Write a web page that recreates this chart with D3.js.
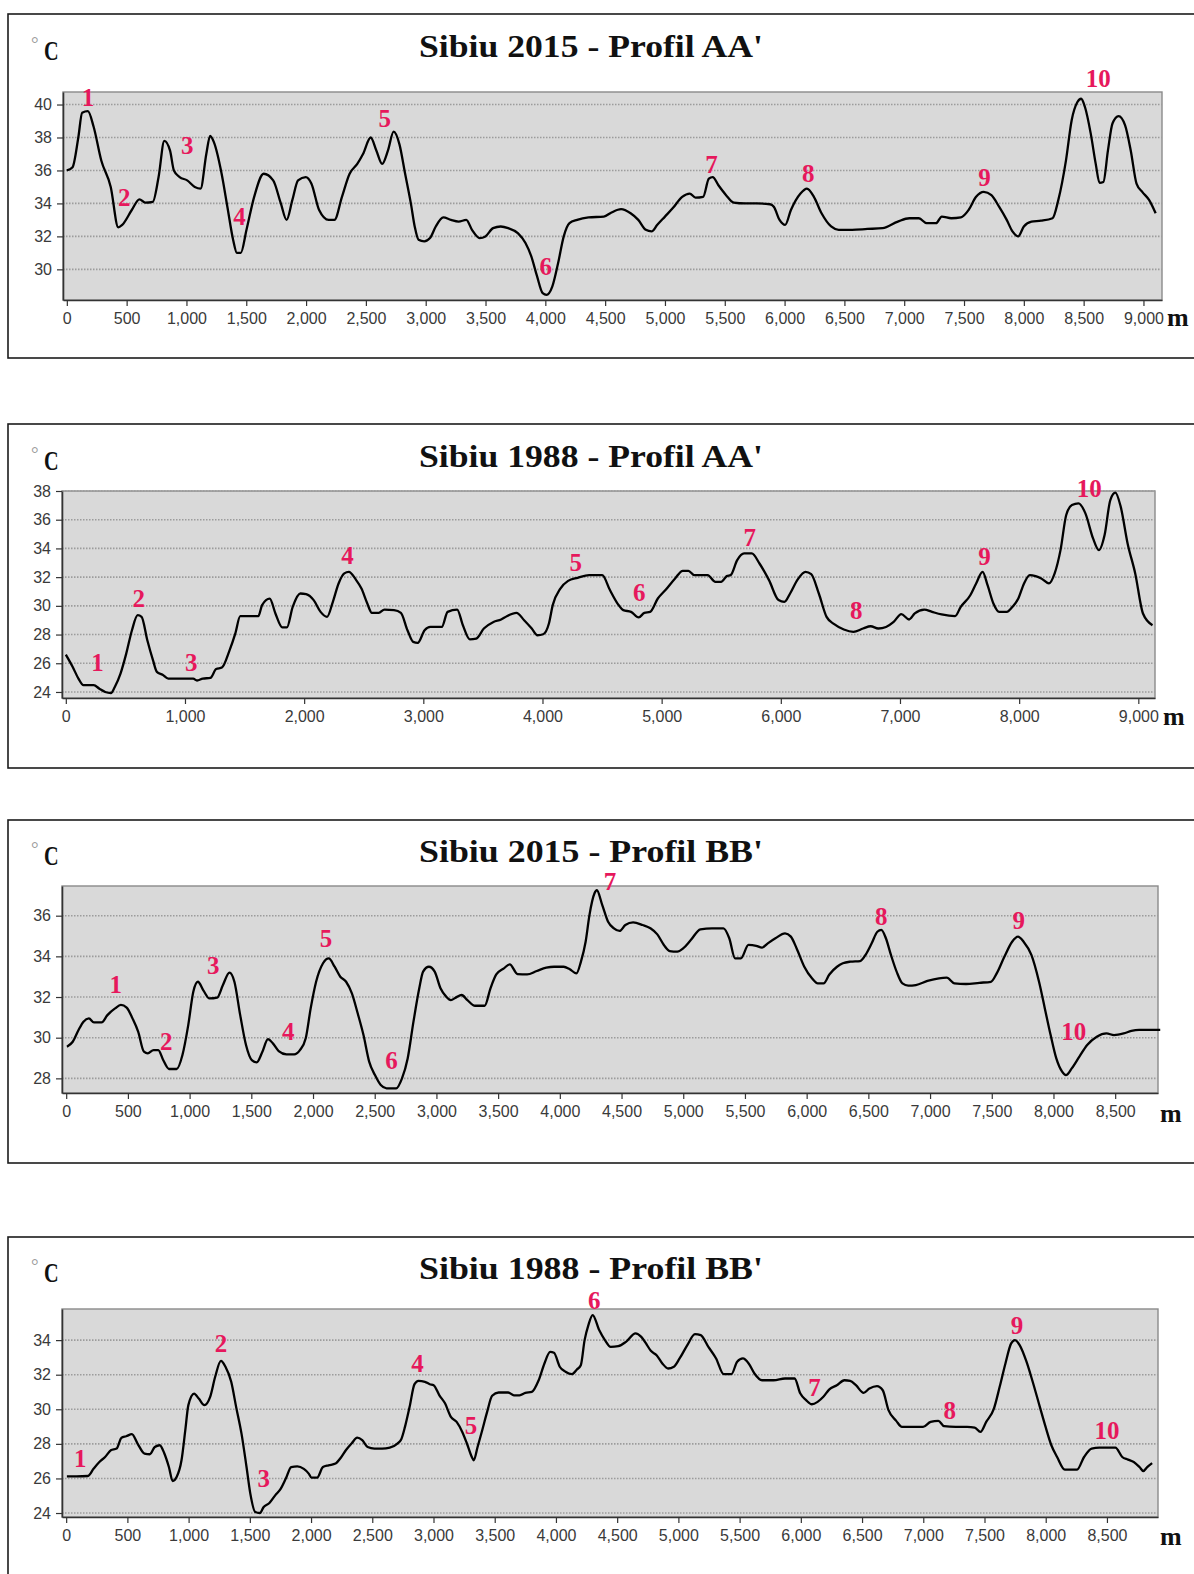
<!DOCTYPE html>
<html><head><meta charset="utf-8">
<script src="https://cdn.jsdelivr.net/npm/d3@7"></script>
<style>body{margin:0;background:#fff;} svg{display:block;}</style>
</head><body>
<svg id="chart" width="1194" height="1574"></svg>
<script>
// ---------- DATA (distance m, temperature °C) ----------
const aa2015 = [[0,36.0],[48,36.2],[96,38.0],[128,39.5],[176,39.6],[224,38.65],[288,36.6],[367,35.0],[430,32.55],[463,32.7],[543,33.6],[607,34.25],[655,34.05],[719,34.1],[767,35.6],[815,37.8],[863,37.2],[895,36.0],[943,35.6],[1006,35.4],[1070,35.0],[1118,34.9],[1166,37.0],[1198,38.1],[1230,37.7],[1294,35.8],[1342,33.8],[1390,31.8],[1422,31.0],[1454,31.0],[1502,32.4],[1566,34.4],[1646,35.8],[1725,35.4],[1789,34.0],[1837,33.0],[1885,34.2],[1933,35.4],[1997,35.6],[2045,35.2],[2109,33.6],[2189,33.0],[2237,33.0],[2300,34.4],[2364,35.8],[2428,36.4],[2476,37.0],[2540,38.0],[2588,37.2],[2636,36.4],[2684,37.2],[2732,38.35],[2780,37.6],[2828,35.8],[2876,34.0],[2908,32.6],[2940,31.8],[2988,31.7],[3036,31.9],[3084,32.6],[3147,33.15],[3211,33.0],[3275,32.9],[3339,33.0],[3387,32.4],[3451,31.9],[3499,32.0],[3563,32.5],[3627,32.6],[3690,32.5],[3770,32.2],[3834,31.6],[3882,30.8],[3930,29.6],[3978,28.55],[4010,28.45],[4058,28.95],[4106,30.35],[4154,32.0],[4202,32.8],[4266,33.0],[4361,33.15],[4489,33.2],[4553,33.45],[4633,33.65],[4713,33.4],[4777,33.0],[4840,32.4],[4888,32.3],[4936,32.7],[5000,33.2],[5064,33.7],[5144,34.4],[5207,34.6],[5255,34.35],[5319,34.4],[5367,35.5],[5399,35.6],[5447,35.1],[5511,34.5],[5575,34.05],[5670,34.0],[5766,34.0],[5878,33.95],[5910,33.8],[5958,33.0],[6005,32.7],[6053,33.6],[6133,34.6],[6187,34.9],[6245,34.4],[6309,33.4],[6389,32.6],[6452,32.4],[6564,32.4],[6692,32.45],[6819,32.5],[6947,32.9],[7043,33.1],[7123,33.1],[7187,32.8],[7266,32.8],[7314,33.2],[7394,33.1],[7474,33.15],[7538,33.6],[7601,34.4],[7665,34.7],[7729,34.5],[7793,33.8],[7857,33.0],[7905,32.3],[7953,32.0],[8000,32.6],[8064,32.9],[8144,32.95],[8240,33.1],[8288,34.2],[8352,36.6],[8400,39.05],[8448,40.15],[8479,40.35],[8511,39.85],[8559,38.25],[8601,36.4],[8633,35.25],[8665,35.3],[8703,37.2],[8741,38.85],[8792,39.3],[8846,38.75],[8894,37.2],[8942,35.2],[8990,34.7],[9048,34.2],[9102,33.4]];

const aa1988 = [[0,26.6],[58,25.74],[106,24.93],[148,24.47],[234,24.47],[282,24.23],[331,24.0],[379,23.93],[411,24.35],[459,25.28],[507,26.67],[555,28.3],[603,29.35],[636,29.23],[684,27.6],[732,26.2],[764,25.4],[812,25.2],[860,24.93],[957,24.93],[1069,24.93],[1101,24.8],[1149,24.93],[1213,24.98],[1262,25.6],[1310,25.7],[1374,26.9],[1422,28.07],[1464,29.28],[1534,29.28],[1615,29.28],[1647,30.05],[1711,30.5],[1759,29.47],[1817,28.5],[1855,28.5],[1904,29.93],[1968,30.86],[2016,30.81],[2080,30.4],[2138,29.58],[2192,29.23],[2241,30.28],[2289,31.56],[2337,32.26],[2375,32.37],[2433,31.84],[2481,31.2],[2530,30.16],[2568,29.51],[2626,29.51],[2674,29.74],[2754,29.7],[2812,29.51],[2867,28.3],[2915,27.49],[2953,27.42],[3011,28.3],[3059,28.53],[3155,28.53],[3204,29.58],[3284,29.74],[3332,28.65],[3390,27.67],[3444,27.72],[3508,28.42],[3589,28.88],[3653,29.05],[3701,29.28],[3781,29.51],[3846,29.0],[3910,28.42],[3958,27.95],[4006,28.02],[4054,28.77],[4086,30.05],[4150,31.2],[4215,31.74],[4295,31.95],[4391,32.14],[4501,32.14],[4566,31.1],[4630,30.16],[4678,29.7],[4743,29.58],[4807,29.19],[4855,29.51],[4903,29.58],[4968,30.51],[5032,31.1],[5113,31.91],[5177,32.44],[5225,32.44],[5274,32.14],[5386,32.14],[5451,31.67],[5499,31.67],[5547,32.07],[5579,32.14],[5634,33.19],[5692,33.65],[5756,33.65],[5821,32.95],[5901,31.79],[5981,30.4],[6030,30.28],[6078,30.86],[6142,31.84],[6207,32.37],[6255,32.21],[6319,30.86],[6384,29.23],[6448,28.72],[6529,28.35],[6609,28.19],[6690,28.42],[6754,28.58],[6818,28.42],[6883,28.53],[6947,28.88],[7011,29.42],[7076,29.05],[7124,29.47],[7204,29.74],[7269,29.58],[7349,29.4],[7462,29.28],[7510,29.93],[7590,30.74],[7639,31.56],[7693,32.37],[7735,31.44],[7784,30.16],[7832,29.58],[7896,29.58],[7944,29.93],[7993,30.51],[8041,31.56],[8089,32.14],[8138,32.07],[8186,31.91],[8250,31.56],[8298,32.26],[8347,33.88],[8395,36.33],[8443,37.02],[8498,37.14],[8556,36.44],[8620,34.7],[8669,33.88],[8717,34.93],[8765,37.37],[8807,37.88],[8852,36.91],[8910,34.35],[8974,32.26],[9039,29.47],[9119,28.65]];

const bb2015 = [[6,29.56],[53,29.8],[100,30.38],[140,30.79],[184,30.95],[225,30.75],[287,30.75],[334,31.11],[396,31.44],[443,31.61],[490,31.48],[537,30.95],[583,30.3],[630,29.31],[661,29.23],[708,29.39],[746,29.39],[786,28.9],[833,28.46],[895,28.46],[942,29.15],[989,30.62],[1030,32.26],[1067,32.75],[1114,32.3],[1161,31.93],[1223,31.97],[1270,32.59],[1323,33.2],[1363,32.75],[1410,31.11],[1457,29.64],[1504,28.9],[1544,28.79],[1588,29.28],[1635,29.93],[1675,29.72],[1722,29.34],[1785,29.18],[1847,29.18],[1894,29.39],[1941,29.97],[1981,31.44],[2025,32.75],[2081,33.66],[2128,33.9],[2175,33.49],[2221,33.0],[2268,32.75],[2315,32.18],[2362,31.2],[2409,30.13],[2455,28.82],[2502,28.16],[2549,27.67],[2596,27.51],[2674,27.51],[2721,28.0],[2767,28.98],[2814,30.79],[2861,32.43],[2892,33.25],[2939,33.49],[2986,33.25],[3033,32.43],[3079,32.02],[3117,31.85],[3157,31.97],[3204,32.1],[3251,31.85],[3313,31.57],[3391,31.57],[3438,32.43],[3485,33.11],[3547,33.41],[3594,33.61],[3657,33.13],[3735,33.11],[3813,33.28],[3890,33.44],[3953,33.49],[4031,33.49],[4078,33.38],[4134,33.16],[4171,33.74],[4209,34.72],[4240,36.03],[4281,37.1],[4300,37.25],[4344,36.52],[4391,35.7],[4438,35.38],[4484,35.25],[4531,35.54],[4594,35.67],[4671,35.54],[4734,35.38],[4790,35.08],[4843,34.56],[4890,34.26],[4952,34.23],[4999,34.39],[5061,34.8],[5139,35.33],[5233,35.38],[5326,35.38],[5373,34.89],[5420,33.9],[5467,33.9],[5529,34.56],[5591,34.52],[5638,34.43],[5685,34.64],[5747,34.89],[5825,35.13],[5872,34.97],[5919,34.39],[5981,33.49],[6043,32.92],[6090,32.67],[6137,32.67],[6184,33.11],[6246,33.49],[6293,33.66],[6355,33.74],[6433,33.77],[6480,34.1],[6527,34.64],[6573,35.21],[6605,35.3],[6642,34.89],[6683,34.07],[6729,33.25],[6776,32.67],[6823,32.56],[6885,32.59],[6979,32.79],[7072,32.92],[7135,32.95],[7197,32.67],[7291,32.64],[7400,32.7],[7493,32.75],[7540,33.16],[7602,33.98],[7665,34.72],[7712,34.97],[7758,34.72],[7821,34.07],[7883,32.75],[7930,31.44],[7977,30.13],[8023,28.98],[8070,28.33],[8101,28.16],[8148,28.49],[8210,29.07],[8273,29.64],[8351,30.05],[8429,30.21],[8491,30.13],[8569,30.21],[8631,30.33],[8694,30.38],[8787,30.38],[8865,30.38]];

const bb1988 = [[6,26.12],[84,26.12],[178,26.14],[225,26.57],[271,26.95],[318,27.24],[365,27.63],[412,27.73],[452,28.36],[490,28.44],[537,28.56],[583,28.02],[640,27.44],[683,27.4],[724,27.82],[764,27.92],[802,27.44],[839,26.66],[870,25.85],[902,26.08],[942,27.05],[973,28.79],[998,30.24],[1045,30.91],[1083,30.62],[1129,30.24],[1176,30.72],[1217,31.88],[1264,32.8],[1301,32.46],[1348,31.59],[1388,30.14],[1432,28.59],[1473,26.66],[1504,25.12],[1544,24.06],[1582,24.0],[1613,24.35],[1660,24.58],[1707,25.02],[1753,25.41],[1794,25.99],[1838,26.66],[1888,26.7],[1941,26.55],[1981,26.28],[2003,26.05],[2050,26.05],[2097,26.66],[2143,26.76],[2200,26.86],[2243,27.2],[2284,27.63],[2331,28.02],[2377,28.36],[2418,28.21],[2462,27.82],[2518,27.73],[2580,27.73],[2643,27.78],[2705,28.02],[2736,28.25],[2767,28.98],[2805,30.14],[2845,31.45],[2877,31.64],[2930,31.59],[2970,31.45],[3001,31.39],[3048,30.81],[3095,30.33],[3142,29.56],[3189,29.27],[3235,28.69],[3273,28.02],[3313,27.24],[3329,27.05],[3360,27.82],[3398,28.79],[3438,29.85],[3479,30.78],[3532,30.97],[3610,30.97],[3657,30.81],[3703,30.81],[3750,30.95],[3803,31.01],[3859,31.68],[3906,32.65],[3953,33.32],[3984,33.27],[4031,32.46],[4078,32.17],[4131,32.03],[4171,32.3],[4203,32.55],[4234,34.0],[4265,34.87],[4300,35.45],[4353,34.58],[4400,34.0],[4447,33.61],[4509,33.65],[4572,33.9],[4650,34.39],[4697,34.19],[4744,33.71],[4775,33.38],[4822,33.13],[4869,32.65],[4916,32.36],[4963,32.46],[5010,32.94],[5073,33.71],[5135,34.35],[5182,34.29],[5245,33.61],[5308,32.94],[5370,32.03],[5433,32.03],[5480,32.75],[5527,32.94],[5574,32.65],[5621,32.07],[5683,31.68],[5777,31.68],[5871,31.78],[5949,31.78],[5996,30.91],[6043,30.53],[6090,30.29],[6137,30.43],[6184,30.72],[6231,31.14],[6294,31.39],[6356,31.68],[6403,31.64],[6450,31.39],[6513,30.95],[6560,31.2],[6622,31.34],[6669,31.1],[6716,29.95],[6779,29.33],[6826,28.98],[6904,28.98],[6998,28.98],[7060,29.27],[7123,29.33],[7170,29.02],[7264,28.98],[7358,28.98],[7420,28.94],[7467,28.69],[7514,29.27],[7577,30.04],[7624,31.3],[7671,32.65],[7718,33.81],[7749,34.0],[7787,33.71],[7843,32.75],[7890,31.68],[7952,30.14],[7999,28.98],[8046,27.92],[8093,27.24],[8156,26.51],[8203,26.51],[8256,26.51],[8313,27.24],[8375,27.73],[8438,27.78],[8516,27.78],[8569,27.78],[8625,27.24],[8672,27.09],[8719,26.95],[8766,26.66],[8797,26.43],[8829,26.66],[8869,26.89]];

// numbered point labels: [text, distance m, °C]
const aa2015Marks = [["1",176,40.45],["2",479,34.4],["3",1006,37.5],["4",1444,33.2],["5",2658,39.15],["6",4003,30.16],["7",5389,36.4],["8",6197,35.8],["9",7672,35.6],["10",8623,41.6]];
const aa1988Marks = [["1",266,26.09],["2",613,30.51],["3",1053,26.09],["4",2363,33.53],["5",4279,33.07],["6",4813,30.98],["7",5740,34.81],["8",6632,29.7],["9",7709,33.42],["10",8588,38.19]];
const bb2015Marks = [["1",402,32.62],["2",811,29.84],["3",1192,33.57],["4",1800,30.3],["5",2106,34.89],["6",2636,28.9],["7",4406,37.67],["8",6605,35.95],["9",7718,35.79],["10",8164,30.3]];
const bb1988Marks = [["1",115,27.15],["2",1264,33.81],["3",1613,25.99],["4",2870,32.65],["5",3307,29.08],["6",4312,36.3],["7",6112,31.3],["8",7217,29.95],["9",7765,34.87],["10",8500,28.79]];

const titles = ["Sibiu 2015 - Profil AA'", "Sibiu 1988 - Profil AA'", "Sibiu 2015 - Profil BB'", "Sibiu 1988 - Profil BB'"];
const yTicksAA2015 = [30,32,34,36,38,40];
const yTicksAA1988 = [24,26,28,30,32,34,36,38];
const yTicksBB2015 = [28,30,32,34,36];
const yTicksBB1988 = [24,26,28,30,32,34];
const xTicksAA2015 = [0,500,1000,1500,2000,2500,3000,3500,4000,4500,5000,5500,6000,6500,7000,7500,8000,8500,9000];
const xTicksAA1988 = [0,1000,2000,3000,4000,5000,6000,7000,8000,9000];
const xTicksBB = [0,500,1000,1500,2000,2500,3000,3500,4000,4500,5000,5500,6000,6500,7000,7500,8000,8500];
const unitDeg = "°", unitC = "C", unitX = "m";

// ---------- LAYOUT ----------
const panels = [
  {title:titles[0], data:aa2015, marks:aa2015Marks, yTicks:yTicksAA2015, xTicks:xTicksAA2015,
   box:{x:8,y:14,h:344}, plot:{x0:63,x1:1162,y0:92,y1:300}, xDom:[-32,9155], yDom:[28.14,40.76],
   titleY:57, cY:59.5, mX:1167, mY:326},
  {title:titles[1], data:aa1988, marks:aa1988Marks, yTicks:yTicksAA1988, xTicks:xTicksAA1988,
   box:{x:8,y:424,h:344}, plot:{x0:62,x1:1155,y0:491,y1:698}, xDom:[-32,9140], yDom:[23.58,38],
   titleY:467, cY:469.5, mX:1163, mY:725},
  {title:titles[2], data:bb2015, marks:bb2015Marks, yTicks:yTicksBB2015, xTicks:xTicksBB,
   box:{x:8,y:820,h:343}, plot:{x0:62,x1:1158,y0:886,y1:1093}, xDom:[-34,8847], yDom:[27.28,37.46],
   titleY:862, cY:865, mX:1160, mY:1122},
  {title:titles[3], data:bb1988, marks:bb1988Marks, yTicks:yTicksBB1988, xTicks:xTicksBB,
   box:{x:8,y:1237,h:400}, plot:{x0:62,x1:1158,y0:1309,y1:1517}, xDom:[-34,8917], yDom:[23.77,35.8],
   titleY:1279, cY:1282, mX:1160, mY:1545}
];

const svg = d3.select("#chart");
svg.append("rect").attr("width",1194).attr("height",1574).attr("fill","#fff");

const fmt = d3.format(",");
const serif = "'Liberation Serif','Times New Roman',serif";
const sans = "'Liberation Sans',Arial,sans-serif";
const red = "#e6185c";

panels.forEach(p => {
  const g = svg.append("g");
  // outer frame
  g.append("rect").attr("x",p.box.x).attr("y",p.box.y).attr("width",1300).attr("height",p.box.h)
    .attr("fill","#fff").attr("stroke","#1c1c1c").attr("stroke-width",1.6);

  const x = d3.scaleLinear().domain(p.xDom).range([p.plot.x0,p.plot.x1]);
  const y = d3.scaleLinear().domain(p.yDom).range([p.plot.y1,p.plot.y0]);

  // plot background
  g.append("rect").attr("x",p.plot.x0).attr("y",p.plot.y0)
    .attr("width",p.plot.x1-p.plot.x0).attr("height",p.plot.y1-p.plot.y0)
    .attr("fill","#d9d9d9").attr("stroke","#8a8a8a").attr("stroke-width",1.4);

  // gridlines
  g.append("g").selectAll("line").data(p.yTicks).join("line")
    .attr("x1",p.plot.x0).attr("x2",p.plot.x1)
    .attr("y1",d=>y(d)).attr("y2",d=>y(d))
    .attr("stroke","#9c9c9c").attr("stroke-width",1.6).attr("stroke-dasharray","1.5,1.5");

  // axes
  const ya = g.append("g").attr("transform",`translate(${p.plot.x0},0)`)
    .call(d3.axisLeft(y).tickValues(p.yTicks).tickSize(6).tickSizeOuter(0).tickPadding(5));
  const xa = g.append("g").attr("transform",`translate(0,${p.plot.y1})`)
    .call(d3.axisBottom(x).tickValues(p.xTicks).tickFormat(fmt).tickSize(6).tickSizeOuter(0).tickPadding(7));
  [ya,xa].forEach(a=>{
    a.select(".domain").attr("stroke","#333").attr("stroke-width",1.6);
    a.selectAll(".tick line").attr("stroke","#333").attr("stroke-width",1.2);
    a.selectAll(".tick text").attr("fill","#3a3a3a").style("font-family",sans).style("font-size","16px");
  });

  // line
  const line = d3.line().x(d=>x(d[0])).y(d=>y(d[1])).curve(d3.curveMonotoneX);
  g.append("path").datum(p.data).attr("d",line).attr("fill","none")
    .attr("stroke","#000").attr("stroke-width",2.3).attr("stroke-linejoin","round");

  // numbered labels
  g.append("g").selectAll("text").data(p.marks).join("text")
    .attr("x",d=>x(d[1])).attr("y",d=>y(d[2])).attr("dy","0.35em")
    .attr("text-anchor","middle").attr("fill",red)
    .style("font-family",serif).style("font-weight","bold").style("font-size","25px")
    .text(d=>d[0]);

  // title
  g.append("text").attr("x",591).attr("y",p.titleY).attr("text-anchor","middle")
    .attr("textLength",344).attr("lengthAdjust","spacingAndGlyphs")
    .style("font-family",serif).style("font-weight","bold").style("font-size","32px").attr("fill","#111")
    .text(p.title);

  // unit °C
  g.append("text").attr("x",31).attr("y",p.cY-10).attr("fill","#999")
    .style("font-family",serif).style("font-size","19px").text(unitDeg);
  g.append("text").attr("transform",`translate(44,${p.cY}) scale(0.75,1)`).attr("fill","#111")
    .style("font-family",serif).style("font-weight","bold").style("font-size","27px").text(unitC);

  // unit m
  g.append("text").attr("x",p.mX).attr("y",p.mY).attr("fill","#111")
    .style("font-family",serif).style("font-weight","bold").style("font-size","26px").text(unitX);
});
</script>
</body></html>
